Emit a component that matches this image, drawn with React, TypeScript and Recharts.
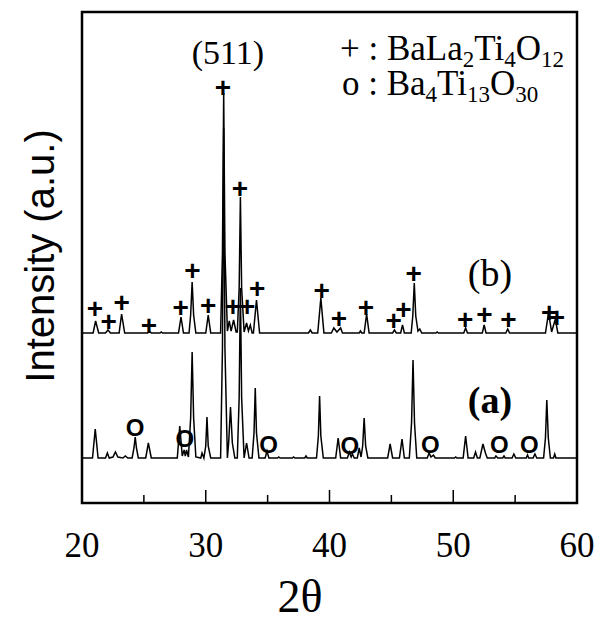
import { ComposedChart, Line, Scatter, XAxis, YAxis, ReferenceArea } from "recharts";

// 2θ (deg) against intensity above each trace's own baseline (a.u.)
const traceA: [number, number][] = [
  [20, 0], [20.85, 0], [21.07, 29], [21.3, 0], [21.9, 0], [22.05, 5], [22.2, 0], [22.5, 1], [22.7, 6], [22.9, 1],
  [23.3, 0], [23.5, 2], [23.7, 0], [24.05, 0], [24.2, 10], [24.3, 21], [24.4, 10], [24.55, 0], [25.15, 0], [25.36, 15],
  [25.6, 0], [27.7, 0], [27.9, 32], [28.1, 2], [28.25, 8], [28.35, 2], [28.45, 8], [28.6, 1], [28.78, 40], [28.9, 106],
  [29.02, 40], [29.2, 1], [29.6, 0], [29.7, 5], [29.85, 0], [30.0, 12], [30.1, 41], [30.2, 12], [30.4, 0], [31.2, 0],
  [31.35, 110], [31.45, 330], [31.55, 110], [31.75, 0], [31.85, 15], [32.0, 51], [32.15, 15], [32.35, 0], [32.55, 0],
  [32.7, 60], [32.8, 170], [32.9, 60], [33.1, 0], [33.3, 15], [33.5, 0], [33.75, 0], [33.9, 25], [34.0, 70],
  [34.1, 25], [34.3, 0], [34.8, 0], [34.95, 7], [35.1, 0], [35.8, 0], [35.9, 1], [36.0, 0], [37.0, 0], [37.1, 1],
  [37.2, 0], [38.0, 0], [38.1, 2], [38.2, 0], [38.95, 0], [39.1, 22], [39.2, 62], [39.3, 22], [39.5, 0], [40.5, 0],
  [40.7, 20], [40.9, 0], [41.45, 0], [41.6, 6], [41.75, 1], [41.85, 4], [42.0, 0], [42.25, 0], [42.4, 10], [42.55, 1],
  [42.68, 12], [42.8, 40], [42.92, 12], [43.1, 0], [44.7, 0], [44.9, 14], [45.1, 0], [45.65, 0], [45.86, 19],
  [46.05, 0], [46.45, 0], [46.63, 35], [46.75, 98], [46.87, 35], [47.05, 0], [47.9, 0], [48.05, 5], [48.2, 1],
  [48.4, 3], [48.55, 0], [50.1, 0], [50.2, 1], [50.3, 0], [50.8, 0], [51.0, 22], [51.2, 0], [51.65, 0], [51.8, 6],
  [51.95, 0], [52.15, 0], [52.4, 14], [52.6, 5], [52.75, 0], [53.35, 0], [53.45, 2], [53.6, 0], [54.0, 0], [54.1, 2],
  [54.2, 0], [54.75, 0], [54.9, 4], [55.05, 0], [55.9, 0], [56.0, 3], [56.1, 0], [56.45, 0], [56.6, 4], [56.75, 0],
  [57.3, 0], [57.45, 20], [57.56, 58], [57.68, 20], [57.85, 0], [58.1, 0], [58.2, 4], [58.3, 0], [60, 0],
];

const traceB: [number, number][] = [
  [20, 0], [20.9, 0], [21.1, 12], [21.35, 0], [21.9, 0], [22.1, 3], [22.3, 0], [23.0, 0], [23.2, 19], [23.45, 0],
  [25.3, 0], [25.45, 2], [25.6, 0], [26.3, 0], [26.4, 1], [26.5, 0], [27.8, 0], [28.0, 16], [28.2, 0], [28.65, 0],
  [28.78, 18], [28.9, 51], [29.02, 18], [29.2, 0], [30.0, 0], [30.2, 18], [30.4, 0], [31.2, 0], [31.35, 80],
  [31.45, 240], [31.55, 80], [31.75, 2], [31.9, 12], [32.05, 2], [32.25, 13], [32.45, 1], [32.55, 1], [32.7, 45],
  [32.8, 136], [32.9, 45], [33.1, 1], [33.3, 10], [33.45, 2], [33.6, 8], [33.75, 0], [33.85, 0], [34.1, 33],
  [34.35, 0], [38.3, 0], [38.45, 3], [38.6, 0], [39.05, 0], [39.3, 35], [39.55, 0], [40.15, 0], [40.35, 5],
  [40.6, 1], [40.9, 5], [41.05, 0], [42.4, 0], [42.5, 2], [42.6, 0], [42.8, 0], [43.0, 19], [43.2, 0], [45.1, 0],
  [45.25, 3], [45.4, 0], [45.75, 0], [45.9, 8], [46.05, 0], [46.6, 0], [46.73, 17], [46.85, 50], [46.97, 17],
  [47.15, 2], [47.3, 4], [47.45, 0], [48.6, 0], [48.7, 1], [48.8, 0], [50.85, 0], [51.0, 5], [51.15, 0], [52.35, 0],
  [52.5, 8], [52.65, 0], [54.25, 0], [54.4, 4], [54.55, 0], [57.45, 0], [57.7, 20], [57.95, 1], [58.25, 14],
  [58.45, 0], [60, 0],
];

// "+" marks BaLa2Ti4O12 reflections on (b), "o" marks Ba4Ti13O30 on (a)
const plusMarks: [number, number][] = [
  [21.05, 25], [22.15, 12], [23.2, 31], [25.4, 8], [27.97, 26], [28.93, 63], [30.2, 28], [31.38, 246], [32.2, 27],
  [32.77, 145], [33.34, 27], [34.16, 45], [39.37, 43], [40.76, 15], [42.94, 26], [45.19, 13], [45.97, 24],
  [46.8, 60], [50.96, 14], [52.52, 19], [54.45, 14], [57.75, 21], [58.37, 16],
];
const circleMarks: [number, number][] = [
  [24.29, 31], [28.31, 20], [35.07, 14], [41.65, 13], [48.14, 14], [53.72, 14], [56.14, 14],
];

const xTicks = [20, 25, 30, 35, 40, 45, 50, 55, 60];
const offsetA = 45;
const offsetB = 170;

const rowsA = traceA.map(([t, c]) => ({ t, v: c + offsetA }));
const rowsB = traceB.map(([t, c]) => ({ t, v: c + offsetB }));
const plusRows = plusMarks.map(([t, c]) => ({ t, v: c + offsetB }));
const circleRows = circleMarks.map(([t, c]) => ({ t, v: c + offsetA }));

const serif = "'Liberation Serif', 'Times New Roman', serif";
const sans = "'Liberation Sans', Arial, sans-serif";

function AngleTick(props: any) {
  const { x, y, payload } = props;
  const major = payload.value % 10 === 0;
  return (
    <g>
      <line x1={x} y1={y} x2={x} y2={y - (major ? 13 : 8)} stroke="#000" strokeWidth={1.5} />
      {major && (
        <text x={x} y={y + 54} textAnchor="middle" fontFamily={serif} fontSize={35} fill="#000">
          {payload.value}
        </text>
      )}
    </g>
  );
}

const plusShape = (p: any) => (
  <text x={p.cx} y={p.cy} textAnchor="middle" dominantBaseline="central" fontFamily={sans} fontWeight="bold" fontSize={28} fill="#000">
    +
  </text>
);

const circleShape = (p: any) => (
  <text x={p.cx} y={p.cy} textAnchor="middle" dominantBaseline="central" fontFamily={sans} fontWeight="bold" fontSize={24} fill="#000">
    O
  </text>
);

export default function App() {
  return (
    <div style={{ position: "absolute", left: 0, top: 0, width: 602, height: 625, background: "#fff" }}>
      <ComposedChart width={602} height={625} margin={{ top: 12, right: 25, bottom: 92, left: 82 }}>
        <XAxis
          type="number"
          dataKey="t"
          domain={[20, 60]}
          ticks={xTicks}
          interval={0}
          allowDataOverflow
          axisLine={false}
          tickLine={false}
          tickSize={0}
          tickMargin={0}
          height={30}
          tick={<AngleTick />}
        />
        <YAxis type="number" dataKey="v" domain={[0, 491]} hide allowDataOverflow />
        <ReferenceArea x1={20} x2={60} y1={0} y2={491} fill="none" stroke="#000" strokeWidth={2.5} />
        <Line data={rowsA} dataKey="v" type="linear" stroke="#000" strokeWidth={1.5} dot={false} isAnimationActive={false} />
        <Line data={rowsB} dataKey="v" type="linear" stroke="#000" strokeWidth={1.5} dot={false} isAnimationActive={false} />
        <Scatter data={plusRows} dataKey="v" shape={plusShape} isAnimationActive={false} />
        <Scatter data={circleRows} dataKey="v" shape={circleShape} isAnimationActive={false} />
      </ComposedChart>
      <svg width={602} height={625} style={{ position: "absolute", left: 0, top: 0, pointerEvents: "none" }}>
        <text x={228} y={64} textAnchor="middle" fontFamily={serif} fontSize={34}>(511)</text>
        <text x={340} y={60} fontFamily={serif} fontSize={35}>
          + : BaLa<tspan fontSize={23} dy={7}>2</tspan><tspan dy={-7}>Ti</tspan><tspan fontSize={23} dy={7}>4</tspan>
          <tspan dy={-7}>O</tspan><tspan fontSize={23} dy={7}>12</tspan>
        </text>
        <text x={342} y={95} fontFamily={serif} fontSize={35}>
          o : Ba<tspan fontSize={23} dy={7}>4</tspan><tspan dy={-7}>Ti</tspan><tspan fontSize={23} dy={7}>13</tspan>
          <tspan dy={-7}>O</tspan><tspan fontSize={23} dy={7}>30</tspan>
        </text>
        <text x={490} y={286} textAnchor="middle" fontFamily={serif} fontSize={38}>(b)</text>
        <text x={490} y={413} textAnchor="middle" fontFamily={serif} fontSize={38} fontWeight="bold">(a)</text>
        <text x={300} y={612} textAnchor="middle" fontFamily={serif} fontSize={46}>2θ</text>
        <text x={40} y={256} transform="rotate(-90 40 256)" textAnchor="middle" dominantBaseline="central" fontFamily={sans} fontSize={40}>
          Intensity (a.u.)
        </text>
      </svg>
    </div>
  );
}
